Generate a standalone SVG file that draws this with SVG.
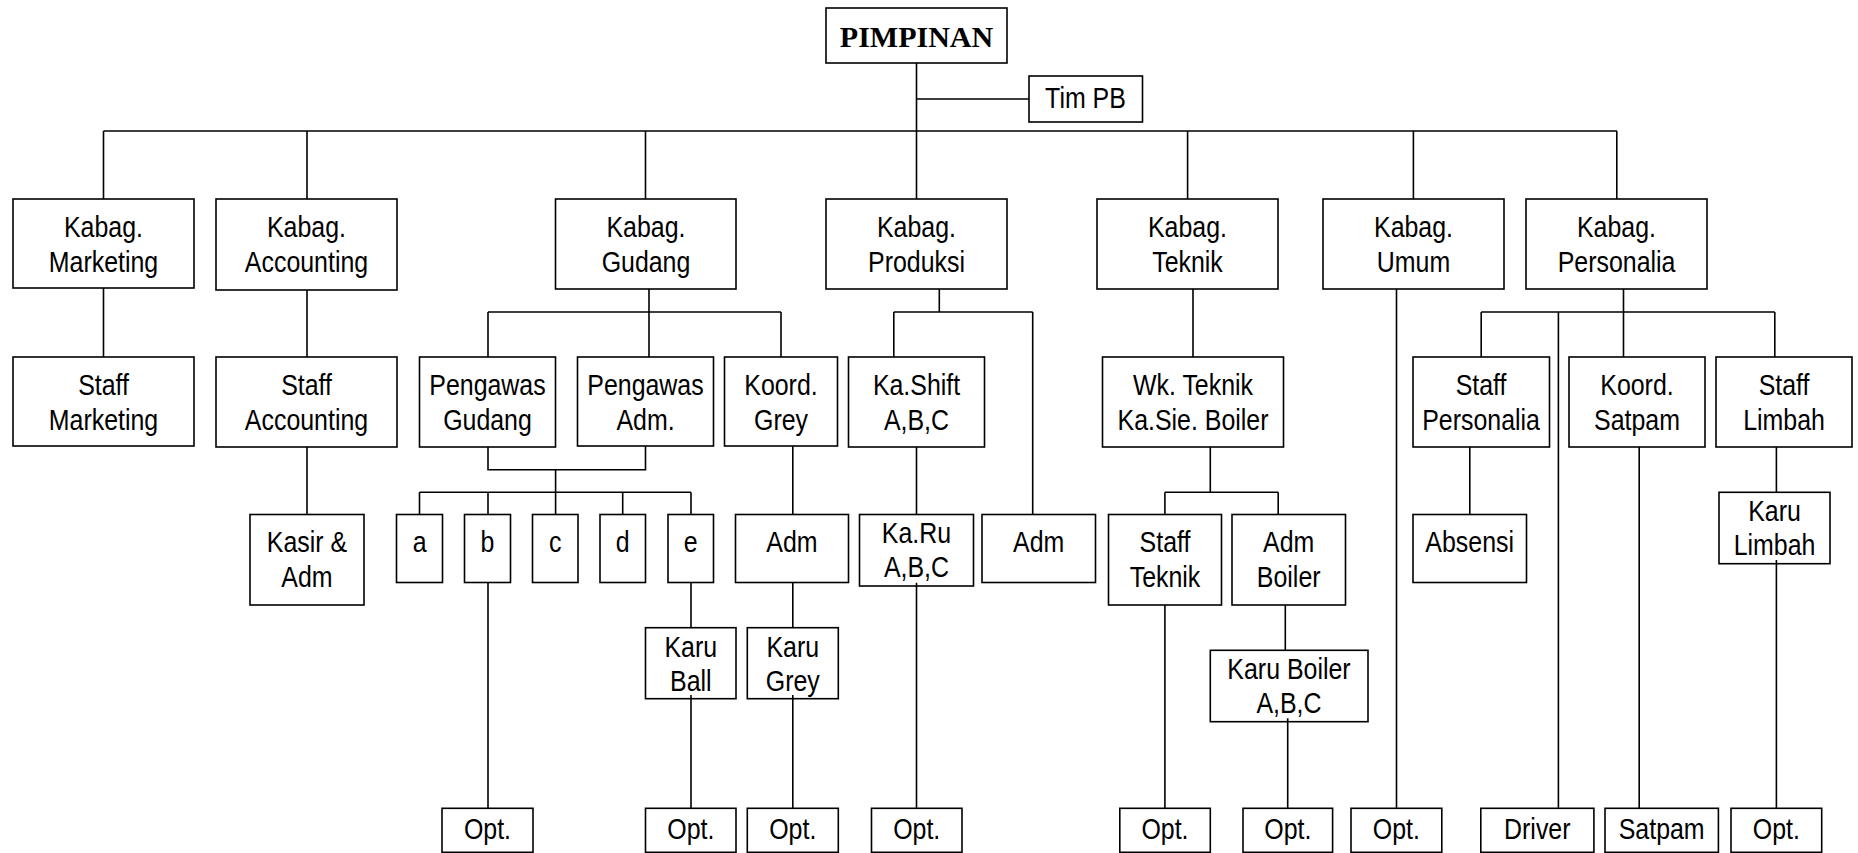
<svg xmlns="http://www.w3.org/2000/svg" width="1858" height="853" viewBox="0 0 1858 853">
<style>
  .bx { fill: #fff; stroke: #000; stroke-width: 1.6; }
  .t { font-family: "Liberation Sans Narrow", "Arial Narrow", "Liberation Sans", Arial, sans-serif; font-size: 29.5px; text-anchor: middle; fill: #000;
       transform-box: fill-box; transform-origin: center; transform: scaleX(0.845); }
  .head { font-family: "Liberation Serif", "Times New Roman", serif; font-size: 30px; font-weight: bold; text-anchor: middle; fill: #000; }
  .ln { stroke: #000; stroke-width: 1.6; fill: none; }
</style>
<rect width="1858" height="853" fill="#fff"/>

<!-- top -->
<g id="pimpinan"><rect class="bx" x="826" y="8" width="181" height="55"/><text class="head" x="916.5" y="47">PIMPINAN</text></g>
<g id="tim-pb"><rect class="bx" x="1029" y="76" width="113.5" height="46"/><text class="t" x="1085.5" y="108">Tim PB</text></g>

<!-- heads of department -->
<g id="kabag-marketing"><rect class="bx" x="13" y="199" width="181" height="89"/><text class="t" x="103.5" y="237">Kabag.</text><text class="t" x="103.5" y="272.5">Marketing</text></g>
<g id="kabag-accounting"><rect class="bx" x="216" y="199" width="181" height="91"/><text class="t" x="306.5" y="237">Kabag.</text><text class="t" x="306.5" y="272.5">Accounting</text></g>
<g id="kabag-gudang"><rect class="bx" x="555.5" y="199" width="180.5" height="90"/><text class="t" x="646" y="237">Kabag.</text><text class="t" x="646" y="272.5">Gudang</text></g>
<g id="kabag-produksi"><rect class="bx" x="826" y="199" width="181" height="90"/><text class="t" x="916.5" y="237">Kabag.</text><text class="t" x="916.5" y="272.5">Produksi</text></g>
<g id="kabag-teknik"><rect class="bx" x="1097" y="199" width="181" height="90"/><text class="t" x="1187.5" y="237">Kabag.</text><text class="t" x="1187.5" y="272.5">Teknik</text></g>
<g id="kabag-umum"><rect class="bx" x="1323" y="199" width="181" height="90"/><text class="t" x="1413.5" y="237">Kabag.</text><text class="t" x="1413.5" y="272.5">Umum</text></g>
<g id="kabag-personalia"><rect class="bx" x="1526" y="199" width="181" height="90"/><text class="t" x="1616.5" y="237">Kabag.</text><text class="t" x="1616.5" y="272.5">Personalia</text></g>

<!-- second level -->
<g id="staff-marketing"><rect class="bx" x="13" y="357" width="181" height="89"/><text class="t" x="103.5" y="395">Staff</text><text class="t" x="103.5" y="430.5">Marketing</text></g>
<g id="staff-accounting"><rect class="bx" x="216" y="357" width="181" height="90"/><text class="t" x="306.5" y="395">Staff</text><text class="t" x="306.5" y="430.5">Accounting</text></g>
<g id="pengawas-gudang"><rect class="bx" x="419.5" y="357" width="136" height="90"/><text class="t" x="487.5" y="395">Pengawas</text><text class="t" x="487.5" y="430.5">Gudang</text></g>
<g id="pengawas-adm"><rect class="bx" x="577.5" y="357" width="136" height="89"/><text class="t" x="645.5" y="395">Pengawas</text><text class="t" x="645.5" y="430.5">Adm.</text></g>
<g id="koord-grey"><rect class="bx" x="724.5" y="357" width="113" height="89"/><text class="t" x="781" y="395">Koord.</text><text class="t" x="781" y="430.5">Grey</text></g>
<g id="ka-shift"><rect class="bx" x="848.5" y="357" width="136" height="90"/><text class="t" x="916.5" y="395">Ka.Shift</text><text class="t" x="916.5" y="430.5">A,B,C</text></g>
<g id="wk-teknik"><rect class="bx" x="1102.5" y="357" width="181" height="90"/><text class="t" x="1193" y="395">Wk. Teknik</text><text class="t" x="1193" y="430.5">Ka.Sie. Boiler</text></g>
<g id="staff-personalia"><rect class="bx" x="1413" y="357" width="136.5" height="90"/><text class="t" x="1481" y="395">Staff</text><text class="t" x="1481" y="430.5">Personalia</text></g>
<g id="koord-satpam"><rect class="bx" x="1569" y="357" width="136" height="90"/><text class="t" x="1637" y="395">Koord.</text><text class="t" x="1637" y="430.5">Satpam</text></g>
<g id="staff-limbah"><rect class="bx" x="1716" y="357" width="136" height="90"/><text class="t" x="1784" y="395">Staff</text><text class="t" x="1784" y="430.5">Limbah</text></g>

<!-- third level -->
<g id="kasir-adm"><rect class="bx" x="250" y="514.5" width="114" height="90.5"/><text class="t" x="307" y="552.5">Kasir &amp;</text><text class="t" x="307" y="587">Adm</text></g>
<g id="grp-a"><rect class="bx" x="396.5" y="514.5" width="46" height="68"/><text class="t" x="419.5" y="552.5">a</text></g>
<g id="grp-b"><rect class="bx" x="464.5" y="514.5" width="46" height="68"/><text class="t" x="487.5" y="552.5">b</text></g>
<g id="grp-c"><rect class="bx" x="532.5" y="514.5" width="45.5" height="68"/><text class="t" x="555.3" y="552.5">c</text></g>
<g id="grp-d"><rect class="bx" x="600" y="514.5" width="45.5" height="68"/><text class="t" x="622.7" y="552.5">d</text></g>
<g id="grp-e"><rect class="bx" x="668" y="514.5" width="45.5" height="68"/><text class="t" x="690.8" y="552.5">e</text></g>
<g id="adm-grey"><rect class="bx" x="735.5" y="514.5" width="113" height="68"/><text class="t" x="792" y="552.5">Adm</text></g>
<g id="ka-ru"><rect class="bx" x="859.5" y="514.5" width="114" height="71.5"/><text class="t" x="916.5" y="543.5">Ka.Ru</text><text class="t" x="916.5" y="577.5">A,B,C</text></g>
<g id="adm-produksi"><rect class="bx" x="982" y="514.5" width="113.5" height="68"/><text class="t" x="1038.7" y="552.5">Adm</text></g>
<g id="staff-teknik"><rect class="bx" x="1108.5" y="514.5" width="113" height="90.5"/><text class="t" x="1165" y="552.5">Staff</text><text class="t" x="1165" y="587">Teknik</text></g>
<g id="adm-boiler"><rect class="bx" x="1232" y="514.5" width="113.5" height="90.5"/><text class="t" x="1288.7" y="552.5">Adm</text><text class="t" x="1288.7" y="587">Boiler</text></g>
<g id="absensi"><rect class="bx" x="1413" y="514.5" width="113.5" height="68"/><text class="t" x="1469.7" y="552.5">Absensi</text></g>
<g id="karu-limbah"><rect class="bx" x="1719" y="492.3" width="111" height="71.4"/><text class="t" x="1774.5" y="521">Karu</text><text class="t" x="1774.5" y="555">Limbah</text></g>

<!-- fourth level -->
<g id="karu-ball"><rect class="bx" x="645.5" y="627.7" width="90.5" height="71"/><text class="t" x="690.8" y="656.7">Karu</text><text class="t" x="690.8" y="691">Ball</text></g>
<g id="karu-grey"><rect class="bx" x="747.3" y="627.7" width="91" height="71"/><text class="t" x="792.8" y="656.7">Karu</text><text class="t" x="792.8" y="691">Grey</text></g>
<g id="karu-boiler"><rect class="bx" x="1210.3" y="650.3" width="157.7" height="71.4"/><text class="t" x="1289" y="679.3">Karu Boiler</text><text class="t" x="1289" y="713.3">A,B,C</text></g>

<!-- operators -->
<g id="opt-b"><rect class="bx" x="442" y="808.3" width="91" height="44"/><text class="t" x="487.5" y="839.3">Opt.</text></g>
<g id="opt-ball"><rect class="bx" x="645.5" y="808.3" width="90.5" height="44"/><text class="t" x="690.8" y="839.3">Opt.</text></g>
<g id="opt-grey"><rect class="bx" x="747.3" y="808.3" width="91" height="44"/><text class="t" x="792.8" y="839.3">Opt.</text></g>
<g id="opt-produksi"><rect class="bx" x="871.5" y="808.3" width="90.5" height="44"/><text class="t" x="916.7" y="839.3">Opt.</text></g>
<g id="opt-teknik"><rect class="bx" x="1119.8" y="808.3" width="90.5" height="44"/><text class="t" x="1165" y="839.3">Opt.</text></g>
<g id="opt-boiler"><rect class="bx" x="1243" y="808.3" width="89.6" height="44"/><text class="t" x="1287.8" y="839.3">Opt.</text></g>
<g id="opt-umum"><rect class="bx" x="1351" y="808.3" width="90.8" height="44"/><text class="t" x="1396.4" y="839.3">Opt.</text></g>
<g id="driver"><rect class="bx" x="1480.8" y="808.3" width="113.1" height="44"/><text class="t" x="1537.3" y="839.3">Driver</text></g>
<g id="satpam"><rect class="bx" x="1605" y="808.3" width="113.4" height="44"/><text class="t" x="1661.7" y="839.3">Satpam</text></g>
<g id="opt-limbah"><rect class="bx" x="1731" y="808.3" width="90.7" height="44"/><text class="t" x="1776.4" y="839.3">Opt.</text></g>

<!-- connectors -->
<g id="connectors" class="ln">
  <path d="M916.5 63V131M916.5 99H1029"/>
  <path d="M103.5 131H1617M103.5 131V199M307 131V199M645.5 131V199M916.5 131V199M1187.6 131V199M1413.4 131V199M1616.8 131V199"/>
  <!-- marketing / accounting -->
  <path d="M103.5 288V357M307 290V357M307 447V514.5"/>
  <!-- gudang -->
  <path d="M649 289V357M488 312H781M488 312V357M781 312V357"/>
  <path d="M488 447V469.7H645.5V446M555.6 469.7V492.3M419.5 492.3H691M419.5 492.3V514.5M488 492.3V514.5M555.6 492.3V514.5M622.7 492.3V514.5M691 492.3V514.5"/>
  <path d="M488 582.5V808.3M691 582.5V627.7M691 695V808.3"/>
  <path d="M792.8 446V514.5M792.8 582.5V627.7M792.8 695V808.3"/>
  <!-- produksi -->
  <path d="M939.3 289V312M893.8 312H1032.7M893.8 312V357M1032.7 312V514.5M916.5 447V514.5M916.5 582.7V808.3"/>
  <!-- teknik -->
  <path d="M1193 289V357M1210.3 447V492.3M1164.9 492.3H1278.2M1164.9 492.3V514.5M1278.2 492.3V514.5"/>
  <path d="M1164.9 605V808.3M1285.3 605V650.3M1287.7 718.3V808.3"/>
  <!-- umum -->
  <path d="M1396.5 289V808.3"/>
  <!-- personalia -->
  <path d="M1623.5 289V357M1481.2 312H1774.8M1481.2 312V357M1774.8 312V357M1558.4 312V808.3"/>
  <path d="M1469.8 447V514.5M1639.2 447V808.3M1776.4 447V492.3M1776.4 560V808.3"/>
</g>
</svg>
